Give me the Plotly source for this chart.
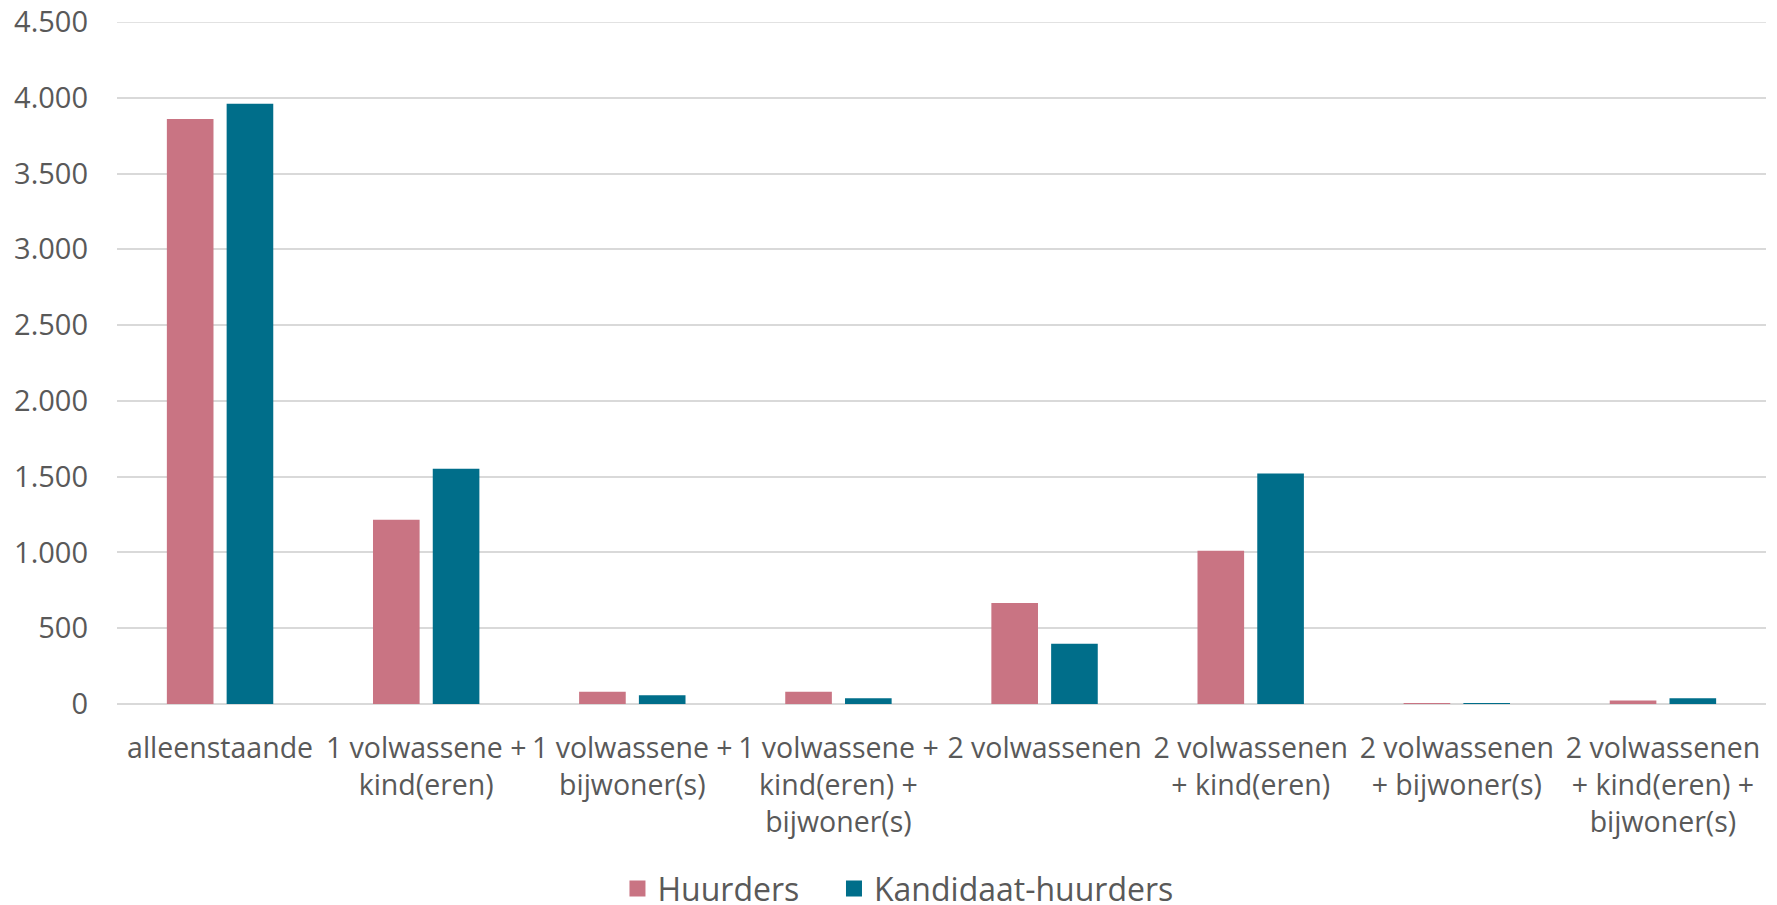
import plotly.graph_objects as go

categories = [
    "alleenstaande",
    "1 volwassene +<br>kind(eren)",
    "1 volwassene +<br>bijwoner(s)",
    "1 volwassene +<br>kind(eren) +<br>bijwoner(s)",
    "2 volwassenen",
    "2 volwassenen<br>+ kind(eren)",
    "2 volwassenen<br>+ bijwoner(s)",
    "2 volwassenen<br>+ kind(eren) +<br>bijwoner(s)",
]
huurders = [3860, 1215, 81, 81, 667, 1012, 4, 23]
kandidaat_huurders = [3960, 1552, 58, 38, 398, 1521, 4, 38]
series_names = ["Huurders", "Kandidaat-huurders"]
series_colors = ["#C97483", "#006E8A"]

FONT = "Open Sans"
GREY = "#595959"

fig = go.Figure()
for name, vals, col in zip(series_names, [huurders, kandidaat_huurders], series_colors):
    fig.add_trace(go.Bar(name=name, x=categories, y=vals, showlegend=False,
                         marker=dict(color=col, line=dict(width=0))))
# legend entries with larger square swatches, one legend box each
for name, col, lg in zip(series_names, series_colors, ["legend", "legend2"]):
    fig.add_trace(go.Scatter(name=name, x=[None], y=[None], mode="markers",
                             marker=dict(symbol="square", size=16, color=col),
                             showlegend=True, legend=lg))

legend_common = dict(orientation="h", xanchor="left",
                     yref="container", y=0.018, yanchor="middle",
                     font=dict(size=32, color=GREY), itemwidth=30,
                     bgcolor="rgba(0,0,0,0)")

fig.update_layout(
    width=1777, height=905,
    margin=dict(l=117, r=11, t=22, b=201, autoexpand=False),
    paper_bgcolor="white", plot_bgcolor="white",
    barmode="group", bargap=0.42, bargroupgap=0.22,
    separators=",.",
    font=dict(family=FONT, size=28, color=GREY),
    showlegend=True,
    legend=dict(x=0.3035, **legend_common),
    legend2=dict(x=0.4348, **legend_common),
)
fig.update_yaxes(range=[0, 4500], dtick=500, tickformat=",d",
                 showgrid=True, gridcolor="#D9D9D9", gridwidth=1.5,
                 zeroline=True, zerolinecolor="#D9D9D9", zerolinewidth=1.5,
                 showline=False, ticks="", ticklabelstandoff=28,
                 tickfont=dict(size=29, color=GREY))
fig.update_xaxes(showline=False, ticks="", tickangle=0,
                 ticklabelstandoff=24,
                 tickfont=dict(size=28.5, color=GREY))
# top gridline at 4.500 (range edge)
fig.add_shape(type="line", xref="paper", x0=0, x1=1, yref="y", y0=4500, y1=4500,
              line=dict(color="#D9D9D9", width=1.5), layer="below")

fig.write_html("out.html")
